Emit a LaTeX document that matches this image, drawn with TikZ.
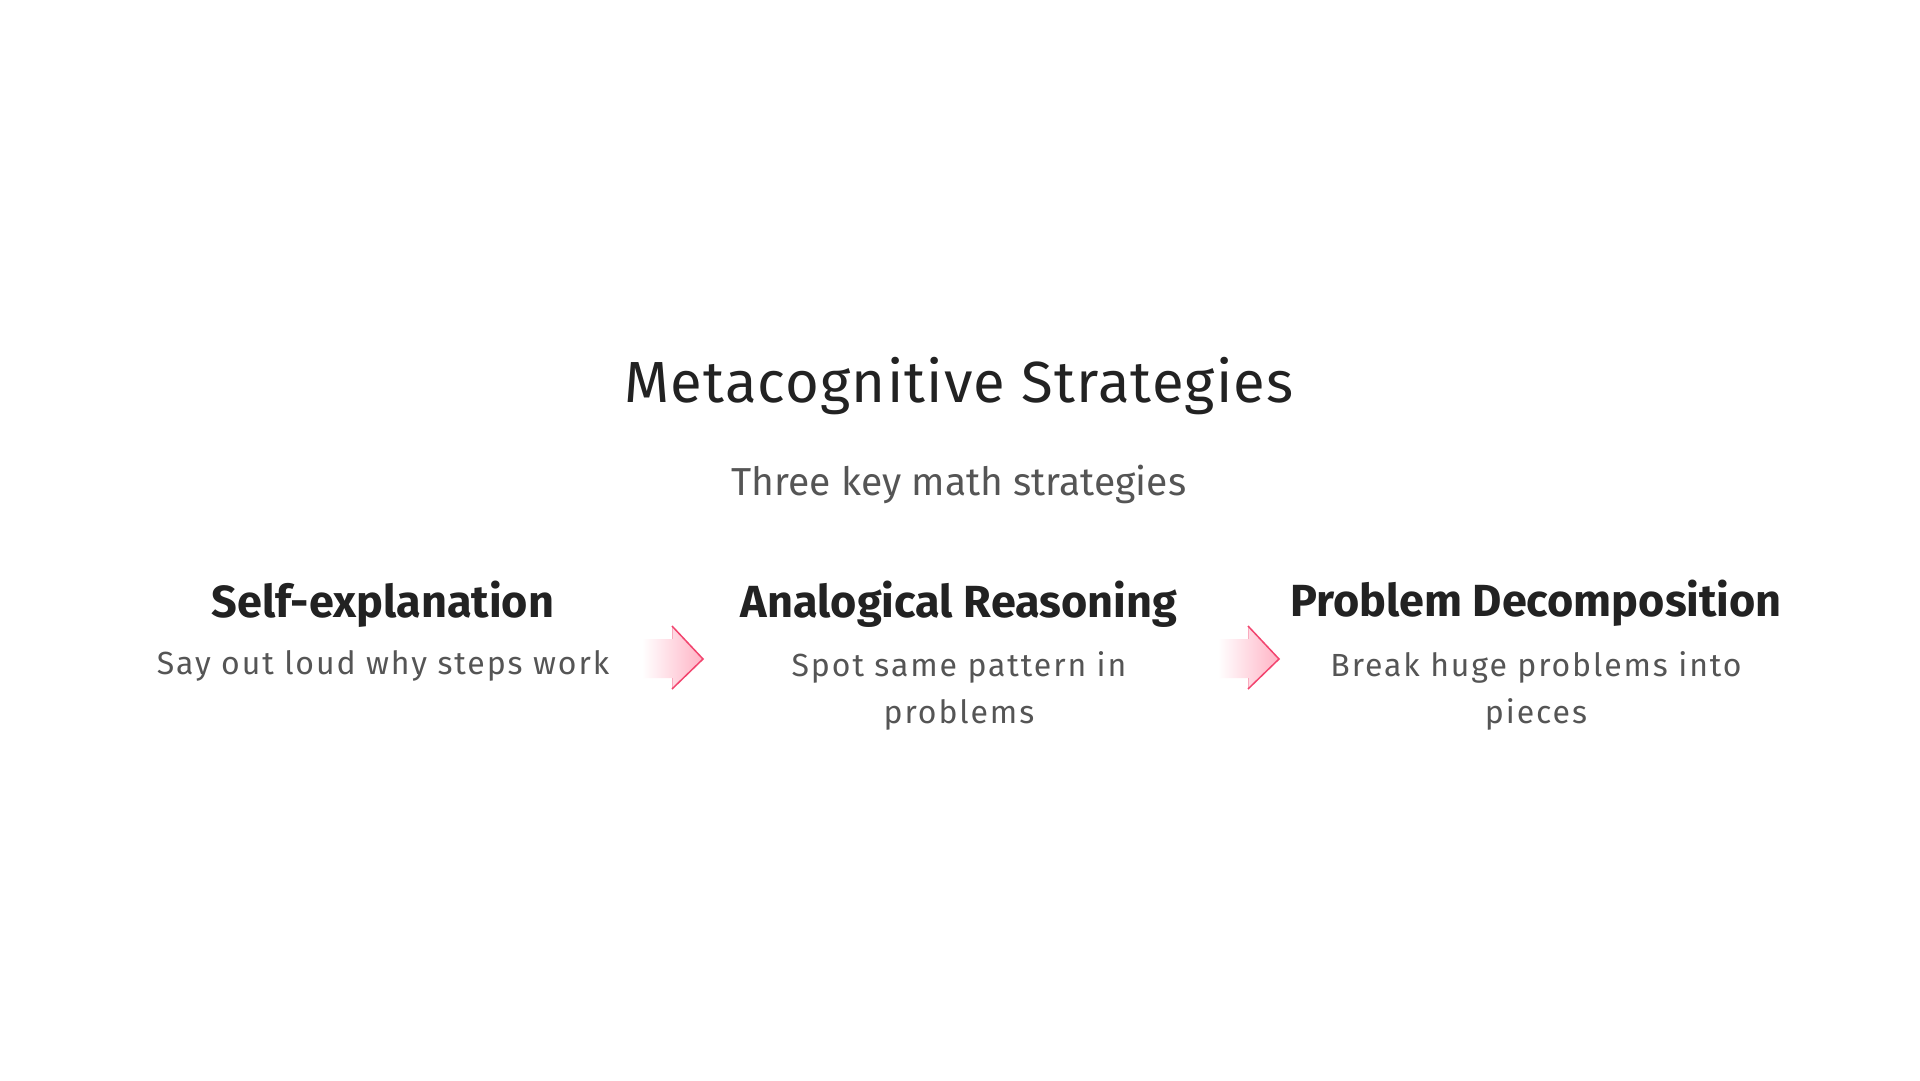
\documentclass[tikz,border=0pt]{standalone}
\usepackage{fontspec}
\setmainfont{Fira Sans}
\newfontfamily\titlefont[LetterSpace=2]{Fira Sans}
\newfontfamily\descfont[LetterSpace=6]{Fira Sans}
\definecolor{titlec}{HTML}{222222}
\definecolor{subc}{HTML}{555555}
\definecolor{arrowfill}{HTML}{FFB3C5}
\definecolor{arrowedge}{HTML}{F2446E}
\tikzset{
  titlestyle/.style={anchor=base, text=titlec, font=\titlefont\fontsize{58}{62}\selectfont, inner sep=0},
  substyle/.style={anchor=base, text=subc, font=\fontsize{39}{44}\selectfont, inner sep=0},
  headstyle/.style={anchor=base, text=titlec, font=\fontsize{45}{50}\selectfont\bfseries, inner sep=0},
  descstyle/.style={anchor=base, text=subc, align=center, font=\descfont\fontsize{32}{47}\selectfont, inner sep=0},
  pics/fadearrow/.style={code={
    \path[left color=white, right color=arrowfill, shading angle=90]
      (-61,-20) -- (-31,-20) -- (-31,-33) -- (0,0) -- (-31,30) -- (-31,19) -- (-61,19) -- cycle;
    \draw[arrowedge!45, line width=1pt] (-31,-20) -- (-31,-33);
    \draw[arrowedge!45, line width=1pt] (-31,19) -- (-31,30);
    \draw[arrowedge, line width=1.5pt, line join=miter] (-31,-33) -- (0,0) -- (-31,30);
  }}
}
\begin{document}
\begin{tikzpicture}[x=1pt,y=-1pt]
\useasboundingbox[fill=white] (0,0) rectangle (1920,1080);
\node[titlestyle] (title) at (959,402) {Metacognitive Strategies};
\node[substyle] (sub) at (959,495) {Three key math strategies};
\node[headstyle] (h1) at (383,617) {Self-explanation};
\node[headstyle] (h2) at (959,617) {Analogical Reasoning};
\node[headstyle] (h3) at (1536,616) {Problem Decomposition};
\node[descstyle] (d1) at (383,674) {Say out loud why steps work};
\node[descstyle, anchor=north] (d2) at (959,651) {Spot same pattern in\\problems};
\node[descstyle, anchor=north] (d3) at (1536,651) {Break huge problems into\\pieces};
\pic (a1) at (703,659) {fadearrow};
\pic (a2) at (1279,659) {fadearrow};
\end{tikzpicture}
\end{document}
